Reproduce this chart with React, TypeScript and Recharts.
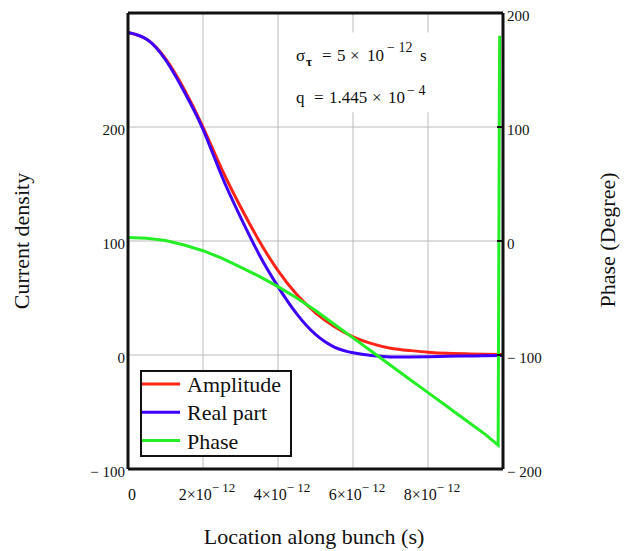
import React from "react";
import {
  ComposedChart, Line, XAxis, YAxis, CartesianGrid, ReferenceLine, ReferenceArea, Legend,
} from "recharts";

// location along the bunch (s)
const timeS = [
  0, 0.5e-12, 1e-12, 1.5e-12, 2e-12, 2.5e-12, 3e-12, 3.5e-12, 4e-12, 4.5e-12, 5e-12,
  5.5e-12, 6e-12, 6.5e-12, 7e-12, 7.5e-12, 8e-12, 8.5e-12, 9e-12, 9.5e-12, 10e-12,
];
const amplitude = [283, 277, 260, 233, 200, 163, 130, 100, 74, 53, 37, 25, 16, 10, 6, 4, 2.5, 1.5, 1, 0.6, 0.4];
const realPart = [283, 277, 259, 231, 198, 157, 121, 88, 60, 36, 18, 7, 2, -0.5, -1.7, -1.8, -1.6, -1.2, -0.9, -0.6, -0.4];

// phase has its own samples because of the wrap at -180 -> +180
const phaseTimeS = [
  0, 0.5e-12, 1e-12, 1.5e-12, 2e-12, 2.5e-12, 3e-12, 3.5e-12, 4e-12, 4.5e-12, 5e-12,
  5.5e-12, 6e-12, 6.5e-12, 7e-12, 7.5e-12, 8e-12, 8.5e-12, 9e-12, 9.5e-12, 9.87e-12, 9.91e-12,
];
const phaseDeg = [3, 2.5, 0.5, -3.5, -8.5, -15, -23, -31, -40, -50, -61, -73, -85, -97, -109, -121, -133, -145, -157, -169, -179, 180];

const xTicks = [0, 2e-12, 4e-12, 6e-12, 8e-12];
const leftTicks = [-100, 0, 100, 200];
const rightTicks = [-200, -100, 0, 100, 200];
const legendOrder = ["Amplitude", "Real part", "Phase"];

const bunchRows = timeS.map((t, i) => ({ t, amp: amplitude[i], re: realPart[i] }));
const phaseRows = phaseTimeS.map((t, i) => ({ t, phase: phaseDeg[i] }));

const FONT = "'Liberation Serif', 'Times New Roman', serif";
const INK = "#111";
const RED = "#ff2418";
const BLUE = "#3d00ff";
const GREEN = "#26ee26";

const minus = (v: number) => (v < 0 ? `\u2212 ${-v}` : `${v}`);

const XTick = ({ x, y, payload }: any) => {
  const n = Math.round(payload.value / 1e-12);
  if (n === 0) {
    return <text x={x + 4} y={y + 31} textAnchor="middle" fontSize={16} fontFamily={FONT} fill={INK}>0</text>;
  }
  return (
    <text x={x + 4} y={y + 31} textAnchor="middle" fontSize={16} fontFamily={FONT} fill={INK}>
      {`${n}\u00d710`}
      <tspan dy={-8} fontSize={13}>{"\u2212 12"}</tspan>
    </text>
  );
};

const LeftTick = ({ x, y, payload }: any) => (
  <text x={x - 3} y={y + 8} textAnchor="end" fontSize={15} fontFamily={FONT} fill={INK}>
    {minus(payload.value)}
  </text>
);

const RightTick = ({ x, y, payload }: any) => (
  <g>
    <line x1={x - 6} x2={x} y1={y} y2={y} stroke={INK} strokeWidth={2} />
    <text x={x + 4} y={y + 8} textAnchor="start" fontSize={15} fontFamily={FONT} fill={INK}>
      {minus(payload.value)}
    </text>
  </g>
);

const LegendBox = ({ payload }: any) => {
  const items = legendOrder
    .map((name) => (payload || []).find((p: any) => p.value === name))
    .filter(Boolean);
  return (
    <svg width={152} height={88} style={{ display: "block" }}>
      <rect x={1} y={1} width={150} height={85} fill="#fff" stroke={INK} strokeWidth={2} />
      {items.map((p: any, i: number) => {
        const cy = 14 + i * 28.3;
        return (
          <g key={p.value}>
            <line x1={2} x2={40} y1={cy} y2={cy} stroke={p.color} strokeWidth={3} />
            <text x={47} y={cy + 8} fontSize={22} fontFamily={FONT} fill={INK}>{p.value}</text>
          </g>
        );
      })}
    </svg>
  );
};

export default function App() {
  return (
    <div style={{ position: "absolute", left: 0, top: 0, width: 628, height: 551, background: "#fff" }}>
      <ComposedChart width={628} height={551} margin={{ top: 13, right: 0, bottom: 0, left: 0 }}>
        <CartesianGrid yAxisId="left" stroke="#bcbcbc" strokeWidth={1} />
        <XAxis
          dataKey="t" type="number" domain={[0, 1e-11]} ticks={xTicks} interval={0}
          allowDataOverflow height={82} tickSize={0} tickMargin={0} tickLine={false}
          axisLine={{ stroke: INK, strokeWidth: 3 }} tick={<XTick />}
        />
        <YAxis
          yAxisId="left" domain={[-100, 300]} ticks={leftTicks} interval={0} allowDataOverflow
          width={128} tickSize={0} tickMargin={0} tickLine={false}
          axisLine={{ stroke: INK, strokeWidth: 3 }} tick={<LeftTick />}
        />
        <YAxis
          yAxisId="right" orientation="right" domain={[-200, 200]} ticks={rightTicks} interval={0}
          allowDataOverflow width={125} tickSize={0} tickMargin={0} tickLine={false}
          axisLine={{ stroke: INK, strokeWidth: 3 }} tick={<RightTick />}
        />
        <ReferenceArea yAxisId="left" x1={4.12e-12} x2={8.5e-12} y1={213} y2={283} fill="#fff" fillOpacity={1} stroke="none" />
        <ReferenceLine yAxisId="left" y={300} stroke={INK} strokeWidth={3} />
        <Line yAxisId="left" data={bunchRows} dataKey="amp" name="Amplitude" type="natural"
          stroke={RED} strokeWidth={3} dot={false} isAnimationActive={false} />
        <Line yAxisId="left" data={bunchRows} dataKey="re" name="Real part" type="natural"
          stroke={BLUE} strokeWidth={3} dot={false} isAnimationActive={false} />
        <Line yAxisId="right" data={phaseRows} dataKey="phase" name="Phase" type="linear"
          stroke={GREEN} strokeWidth={3} dot={false} isAnimationActive={false} />
        <Legend
          layout="vertical" align="center" verticalAlign="middle"
          wrapperStyle={{ left: 140, top: 370, width: 152, height: 88 }}
          content={<LegendBox />}
        />
      </ComposedChart>
      <svg width={628} height={551} style={{ position: "absolute", left: 0, top: 0, pointerEvents: "none" }}
        fontFamily={FONT} fill={INK}>
        <text transform="translate(29,241) rotate(-90)" textAnchor="middle" fontSize={22}>Current density</text>
        <text transform="translate(615,240) rotate(-90)" textAnchor="middle" fontSize={22}>Phase (Degree)</text>
        <text x={314} y={544} textAnchor="middle" fontSize={22}>Location along bunch (s)</text>
        <text y={61} fontSize={17}>
          <tspan x={296}>σ</tspan>
          <tspan x={306} dy={5} fontSize={13} fontWeight="bold">τ</tspan>
          <tspan x={322} dy={-5}>=</tspan>
          <tspan x={337}>5</tspan>
          <tspan x={350}>×</tspan>
          <tspan x={367}>10</tspan>
          <tspan x={387} dy={-9} fontSize={14}>{"\u2212 12"}</tspan>
          <tspan x={420} dy={9}>s</tspan>
        </text>
        <text y={103} fontSize={17}>
          <tspan x={296}>q</tspan>
          <tspan x={314}>=</tspan>
          <tspan x={329}>1.445</tspan>
          <tspan x={372}>×</tspan>
          <tspan x={388}>10</tspan>
          <tspan x={407} dy={-8} fontSize={14}>{"\u2212 4"}</tspan>
        </text>
      </svg>
    </div>
  );
}
